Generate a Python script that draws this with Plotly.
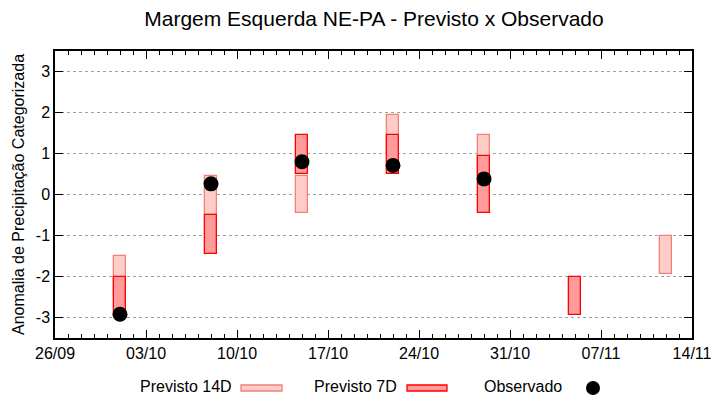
import plotly.graph_objects as go

# ---- data ----
dates_14d = ['2024-10-01', '2024-10-08', '2024-10-15', '2024-10-22', '2024-10-29', '2024-11-12']
top_14d = [-1.5, 0.45, 0.45, 1.95, 1.45, -1.0]
bot_14d = [-2.5, -0.5, -0.45, 1.0, 0.45, -1.95]

dates_7d = ['2024-10-01', '2024-10-08', '2024-10-15', '2024-10-22', '2024-10-29', '2024-11-05']
top_7d = [-2.0, -0.5, 1.45, 1.45, 0.95, -2.0]
bot_7d = [-2.95, -1.45, 0.5, 0.5, -0.45, -2.95]

dates_obs = ['2024-10-01', '2024-10-08', '2024-10-15', '2024-10-22', '2024-10-29']
obs = [-2.92, 0.26, 0.8, 0.71, 0.38]

y_ticks = [-3, -2, -1, 0, 1, 2, 3]
y_ticktext = ['-3', '-2', '-1', '0', '1', '2', '3']

DAY = 86400000
FONT = 'Liberation Sans, Arial, sans-serif'

fig = go.Figure()
fig.add_trace(go.Bar(
    x=dates_14d, base=bot_14d, y=[t - b for t, b in zip(top_14d, bot_14d)],
    width=0.95 * DAY, marker=dict(color='#ffcdc8', line=dict(color='#f08078', width=1.3)),
    showlegend=False, name='Previsto 14D'))
fig.add_trace(go.Bar(
    x=dates_7d, base=bot_7d, y=[t - b for t, b in zip(top_7d, bot_7d)],
    width=0.95 * DAY, marker=dict(color='#ff9b9b', line=dict(color='#ff0000', width=1.3)),
    showlegend=False, name='Previsto 7D'))
fig.add_trace(go.Scatter(
    x=dates_obs, y=obs, mode='markers',
    marker=dict(color='black', size=15), showlegend=False, name='Observado'))

# plot area in pixels
L, R, T, B = 55, 692, 51, 338
W, H = 720, 400

def px(x):
    return (x - L) / (R - L)

def py(y):
    return (B - y) / (B - T)

shapes = [
    dict(type='rect', xref='paper', yref='paper', x0=px(241), x1=px(282), y0=py(391), y1=py(385),
         fillcolor='#ffcdc8', line=dict(color='#f08078', width=1.3)),
    dict(type='rect', xref='paper', yref='paper', x0=px(407), x1=px(447), y0=py(391), y1=py(385),
         fillcolor='#ff9b9b', line=dict(color='#ff0000', width=1.3)),
    dict(type='circle', xref='paper', yref='paper', x0=px(586), x1=px(600), y0=py(395), y1=py(381),
         fillcolor='black', line=dict(color='black', width=0)),
]
annotations = [
    dict(text=t, xref='paper', yref='paper', x=px(xr), y=py(386), xanchor='right', yanchor='middle',
         showarrow=False, font=dict(family=FONT, size=16, color='black'))
    for t, xr in [('Previsto 14D', 234), ('Previsto 7D', 399), ('Observado', 564)]
]

fig.update_layout(
    width=W, height=H,
    margin=dict(l=L, r=W - R, t=T, b=H - B),
    plot_bgcolor='white', paper_bgcolor='white',
    barmode='overlay', bargap=0,
    font=dict(family=FONT, size=16, color='black'),
    title=dict(text='Margem Esquerda NE-PA - Previsto x Observado', x=px(374), xref='paper',
               y=1 - 19 / H, yanchor='middle', font=dict(size=21)),
    shapes=shapes, annotations=annotations,
    xaxis=dict(type='date', range=['2024-09-26', '2024-11-14'], tick0='2024-09-26', dtick=7 * DAY,
               tickformat='%d/%m', ticks='inside', ticklen=8, tickcolor='black', tickwidth=1,
               minor=dict(dtick=DAY, tick0='2024-09-26', ticks='inside', ticklen=4, tickcolor='black', showgrid=False),
               showline=True, linecolor='black', linewidth=1.5, mirror='allticks', showgrid=False,
               zeroline=False, tickfont=dict(size=16), automargin=False),
    yaxis=dict(range=[-3.5, 3.5], tickvals=y_ticks, ticktext=y_ticktext, ticks='inside', ticklen=8,
               tickcolor='black', showline=True, linecolor='black', linewidth=1.5, mirror='allticks',
               showgrid=True, gridcolor='#a0a0a0', griddash='dot', gridwidth=1, zeroline=False,
               title=dict(text='Anomalia de Precipitação Categorizada', font=dict(size=16), standoff=7),
               tickfont=dict(size=16), automargin=False),
)

fig.write_html('out.html', config={'displayModeBar': False},
               post_script="document.body.style.margin='0';")
